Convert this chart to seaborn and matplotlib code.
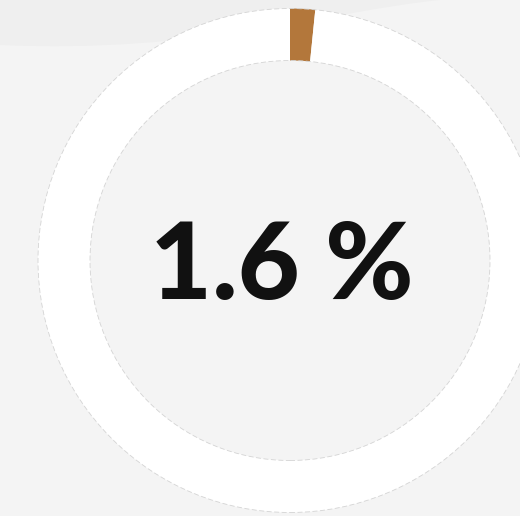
import matplotlib
matplotlib.use('Agg')
import matplotlib.pyplot as plt
import seaborn as sns
from matplotlib.patches import Circle, PathPatch
from matplotlib.path import Path

# share shown in the ring
labels = ['Share', 'Rest']
values = [1.6, 98.4]
center_label = '1.6 %'

sns.set_theme(style='white')
plt.rcParams['font.family'] = ['Lato', 'DejaVu Sans']

fig = plt.figure(figsize=(5.2, 5.16), dpi=100)
fig.patch.set_facecolor('#f4f4f4')
ax = fig.add_axes([0, 0, 1, 1])
ax.set_facecolor('#f4f4f4')

# soft darker shape at the top of the background
verts = [(0, 516), (0, 471), (200, 462), (330, 505), (440, 516), (0, 516)]
codes = [Path.MOVETO, Path.LINETO, Path.CURVE4, Path.CURVE4, Path.CURVE4, Path.CLOSEPOLY]
ax.add_patch(PathPatch(Path(verts, codes), facecolor='#efefef', edgecolor='none', zorder=0))

cx, cy = 290, 255.5
r_out, ring = 252, 52

ax.pie(values, colors=['#b3773b', '#ffffff'], startangle=90, counterclock=False,
       center=(cx, cy), radius=r_out, frame=True,
       wedgeprops=dict(width=ring, edgecolor='none', linewidth=0))
ax.set_xlim(0, 520)
ax.set_ylim(0, 516)
ax.set_aspect('equal')
ax.axis('off')

# faint outlines of the ring
for r in (r_out, r_out - ring):
    ax.add_patch(Circle((cx, cy), r, fill=False, edgecolor='#d4d4d4', linewidth=0.6,
                        linestyle=(0, (6, 3)), zorder=3))

ax.text(cx - 8, cy - 8, center_label, ha='center', va='center', fontsize=77,
        fontweight='black', color='#111111')

fig.savefig('out.png', dpi=100, facecolor=fig.get_facecolor())
